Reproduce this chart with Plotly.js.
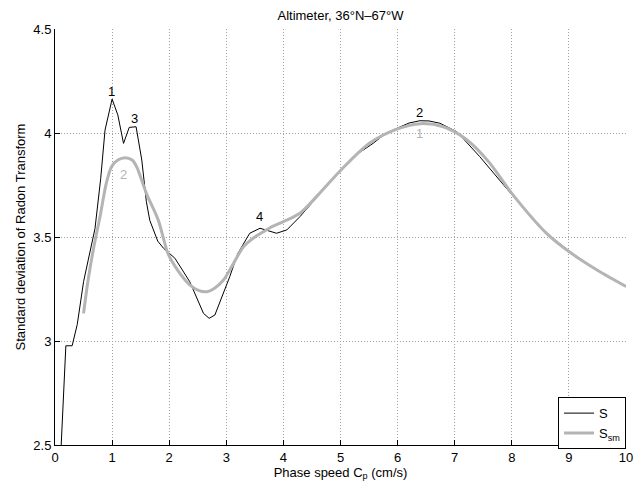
<!DOCTYPE html>
<html>
<head>
<meta charset="utf-8">
<script src="https://cdn.plot.ly/plotly-3.0.1.min.js"></script>
<style>html,body{margin:0;padding:0;background:#fff;}#chart{width:640px;height:483px;}</style>
</head>
<body>
<div id="chart"></div>
<script>
// Raw S
const sX = [0.1,0.19,0.30,0.39,0.50,0.60,0.70,0.80,0.876,1.0,1.1,1.2,1.3,1.42,1.52,1.6,1.66,1.8,1.9,2.1,2.36,2.6,2.7,2.8,3.06,3.2,3.41,3.59,3.75,3.88,4.06,4.29,4.47,4.7,4.99,5.3,5.57,5.8,6.04,6.2,6.39,6.55,6.74,7.04,7.44,8.03,8.61,9.02,9.49,10.0];
const sY = [2.45,2.977,2.977,3.08,3.285,3.42,3.54,3.78,4.014,4.163,4.087,3.95,4.027,4.03,3.87,3.67,3.58,3.48,3.446,3.398,3.285,3.133,3.109,3.125,3.309,3.42,3.518,3.542,3.53,3.518,3.534,3.598,3.654,3.73,3.822,3.9,3.95,4.0,4.03,4.048,4.059,4.058,4.047,4.006,3.886,3.694,3.518,3.429,3.34,3.261];
// Smoothed S_sm
const smX = [0.5,0.58,0.67,0.79,0.9,0.99,1.1,1.23,1.35,1.43,1.6,1.81,1.98,2.15,2.36,2.5,2.66,2.8,2.95,3.1,3.3,3.5,3.65,3.8,4.0,4.29,4.6,5.0,5.5,6.0,6.4,6.8,7.2,7.6,8.0,8.6,9.0,9.5,10];
const smY = [3.133,3.293,3.438,3.6,3.76,3.838,3.87,3.881,3.87,3.838,3.71,3.58,3.42,3.34,3.27,3.245,3.237,3.255,3.293,3.36,3.453,3.5,3.525,3.55,3.574,3.614,3.7,3.82,3.95,4.02,4.045,4.03,3.97,3.86,3.71,3.52,3.43,3.34,3.262];
// Peak labels
const blackLabelX = [0.99, 1.40, 3.59, 6.39];
const blackLabelY = [4.20, 4.07, 3.60, 4.10];
const blackLabelText = ["1", "3", "4", "2"];
const grayLabelX = [1.2, 6.39];
const grayLabelY = [3.80, 4.00];
const grayLabelText = ["2", "1"];
const xTicks = [0,1,2,3,4,5,6,7,8,9,10];
const yTicks = [2.5,3,3.5,4,4.5];

const FONT = "Liberation Sans, Arial, Helvetica, sans-serif";
const traces = [
  {x: sX, y: sY, type: 'scatter', mode: 'lines', name: 'S', line: {color: '#000', width: 1}},
  {x: smX, y: smY, type: 'scatter', mode: 'lines', name: 'S<sub>sm</sub>', line: {color: '#b4b4b4', width: 3, shape: 'spline', smoothing: 0.8}}
];
const annotations = [];
blackLabelX.forEach((x, i) => annotations.push({x: x, y: blackLabelY[i], xref: 'x', yref: 'y', text: blackLabelText[i], showarrow: false, font: {size: 13, color: '#000', family: FONT}}));
grayLabelX.forEach((x, i) => annotations.push({x: x, y: grayLabelY[i], xref: 'x', yref: 'y', text: grayLabelText[i], showarrow: false, font: {size: 13, color: '#b4b4b4', family: FONT}}));

const layout = {
  width: 640, height: 483,
  margin: {l: 55, r: 14, t: 29, b: 38},
  paper_bgcolor: '#fff', plot_bgcolor: '#fff',
  font: {family: FONT, size: 13, color: '#000'},
  title: {text: 'Altimeter, 36°N–67°W', font: {size: 13, family: FONT}, x: 0.5, xref: 'paper', xanchor: 'center', y: 1 - 15/483, yref: 'container', yanchor: 'middle'},
  xaxis: {range: [0, 10], tickvals: xTicks, ticktext: xTicks.map(String), ticks: 'inside', ticklen: 5, tickcolor: '#000',
    showline: true, linecolor: '#000', linewidth: 1, showgrid: true, gridcolor: '#a0a0a0', griddash: '1px,2px', gridwidth: 1, zeroline: false,
    title: {text: 'Phase speed C<sub>p</sub> (cm/s)', font: {size: 13}, standoff: 0}, tickfont: {size: 13}},
  yaxis: {range: [2.5, 4.5], tickvals: yTicks, ticktext: yTicks.map(String), ticks: 'inside', ticklen: 5, tickcolor: '#000',
    showline: true, linecolor: '#000', linewidth: 1, showgrid: true, gridcolor: '#a0a0a0', griddash: '1px,2px', gridwidth: 1, zeroline: false,
    title: {text: 'Standard deviation of Radon Transform', font: {size: 13}, standoff: 4}, tickfont: {size: 13}},
  legend: {x: 0.881, y: 0.115, xanchor: 'left', yanchor: 'top', bgcolor: '#fff', bordercolor: '#000', borderwidth: 1,
    font: {size: 13}, tracegroupgap: 0, itemwidth: 30},
  showlegend: true,
  annotations: annotations
};
Plotly.newPlot('chart', traces, layout, {staticPlot: true, displayModeBar: false});
</script>
</body>
</html>
